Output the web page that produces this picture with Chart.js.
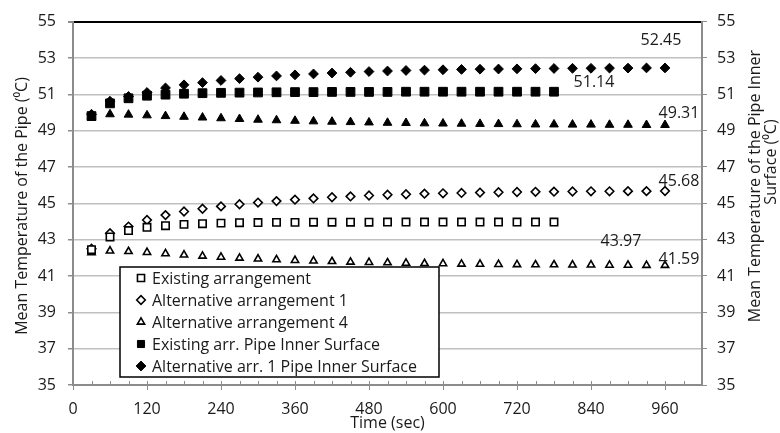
<!DOCTYPE html>
<html>
<head>
<meta charset="utf-8">
<script src="https://cdn.jsdelivr.net/npm/chart.js@4/dist/chart.umd.min.js"></script>
<style>
  html, body { margin: 0; padding: 0; background: #fff; }
  #wrap { width: 780px; height: 433px; }
</style>
</head>
<body>
<div id="wrap"><canvas id="chart" width="780" height="433"></canvas></div>
<script>
// time steps (sec)
const timeAll = [30, 60, 90, 120, 150, 180, 210, 240, 270, 300, 330, 360, 390, 420, 450, 480,
  510, 540, 570, 600, 630, 660, 690, 720, 750, 780, 810, 840, 870, 900, 930, 960];
const timeExisting = timeAll.slice(0, 26);

// mean pipe temperature
const existingArr = [42.45, 43.15, 43.5, 43.68, 43.77, 43.84, 43.88, 43.91, 43.93, 43.94, 43.95, 43.95, 43.96,
  43.96, 43.96, 43.96, 43.97, 43.97, 43.97, 43.97, 43.97, 43.97, 43.97, 43.97, 43.97, 43.97];
const altArr1 = [42.5, 43.35, 43.72, 44.08, 44.35, 44.55, 44.7, 44.83, 44.95, 45.04, 45.12, 45.2, 45.27, 45.33,
  45.38, 45.43, 45.47, 45.5, 45.53, 45.55, 45.57, 45.59, 45.61, 45.62, 45.63, 45.64, 45.65, 45.66, 45.66,
  45.67, 45.67, 45.68];
const altArr4 = [42.28, 42.38, 42.35, 42.3, 42.23, 42.16, 42.1, 42.04, 41.99, 41.94, 41.9, 41.86, 41.83, 41.8,
  41.77, 41.75, 41.73, 41.71, 41.69, 41.68, 41.66, 41.65, 41.64, 41.63, 41.62, 41.62, 41.61, 41.61, 41.6,
  41.6, 41.59, 41.59];

// mean pipe inner surface temperature
const existingInner = [49.8, 50.5, 50.78, 50.92, 50.98, 51.03, 51.06, 51.08, 51.09, 51.1, 51.11, 51.12, 51.12,
  51.13, 51.13, 51.13, 51.13, 51.14, 51.14, 51.14, 51.14, 51.14, 51.14, 51.14, 51.14, 51.14];
const altInner1 = [49.9, 50.62, 50.88, 51.1, 51.35, 51.52, 51.64, 51.76, 51.86, 51.94, 52.01, 52.07, 52.12,
  52.17, 52.21, 52.25, 52.28, 52.31, 52.33, 52.35, 52.37, 52.38, 52.39, 52.4, 52.41, 52.42, 52.43, 52.43,
  52.44, 52.44, 52.45, 52.45];
const altInner4 = [49.72, 49.9, 49.88, 49.84, 49.8, 49.76, 49.72, 49.68, 49.64, 49.6, 49.57, 49.54, 49.51,
  49.49, 49.47, 49.45, 49.43, 49.42, 49.4, 49.39, 49.38, 49.37, 49.36, 49.35, 49.34, 49.34, 49.33, 49.33,
  49.32, 49.32, 49.31, 49.31];

const seriesNames = ['Existing arrangement', 'Alternative arrangement 1', 'Alternative arrangement 4',
  'Existing arr. Pipe Inner Surface', 'Alternative arr. 1 Pipe Inner Surface', 'Alternative arr. 4 Pipe Inner Surface'];

const xTicks = { min: 0, max: 1020, major: 120, minor: 30 };
const yTicks = { min: 35, max: 55, step: 2 };

const FONT = '"Open Sans", "Noto Sans", sans-serif';
const FSIZE = 16;
const TXT = '#1a1a1a';
const AXIS = '#8c8c8c';
const GRID = '#c0c0c0';

const pts = (xs, ys) => xs.map((t, i) => ({ x: t, y: ys[i] }));

function openSet(label, xs, ys, style, r) {
  return { label, data: pts(xs, ys), pointStyle: style, pointRadius: r, pointHoverRadius: r,
    backgroundColor: '#fff', borderColor: '#000', pointBorderWidth: 1.6, showLine: false };
}
function filledSet(label, xs, ys, style, r) {
  return { label, data: pts(xs, ys), pointStyle: style, pointRadius: r, pointHoverRadius: r,
    backgroundColor: '#000', borderColor: '#000', pointBorderWidth: 1, showLine: false };
}

const datasets = [
  openSet(seriesNames[0], timeExisting, existingArr, 'rect', 5.2),
  openSet(seriesNames[1], timeAll, altArr1, 'rectRot', 4.3),
  openSet(seriesNames[2], timeAll, altArr4, 'triangle', 4.2),
  filledSet(seriesNames[3], timeExisting, existingInner, 'rect', 6.2),
  filledSet(seriesNames[4], timeAll, altInner1, 'rectRot', 4.9),
  filledSet(seriesNames[5], timeAll, altInner4, 'triangle', 5)
];

// end-of-series value labels: dataset index, offset from the last point
const endLabels = [
  { ds: 4, dx: -4, dy: -27 },
  { ds: 3, dx: 40, dy: -9 },
  { ds: 5, dx: 14, dy: -12 },
  { ds: 1, dx: 14, dy: -10 },
  { ds: 0, dx: 67, dy: 19 },
  { ds: 2, dx: 14, dy: -6 }
];

const decor = {
  id: 'decor',
  afterDraw(chart) {
    const { ctx, chartArea: a, scales } = chart;
    const x = scales.x;
    ctx.save();

    // x axis tick marks
    ctx.strokeStyle = AXIS;
    ctx.lineWidth = 1;
    for (let t = xTicks.min; t <= xTicks.max; t += xTicks.minor) {
      const px = Math.round(x.getPixelForValue(t)) + 0.5;
      const isMajor = t % xTicks.major === 0;
      ctx.beginPath();
      ctx.moveTo(px, a.bottom - 4);
      ctx.lineTo(px, isMajor ? a.bottom + 5 : a.bottom);
      ctx.stroke();
    }

    // value labels
    ctx.fillStyle = TXT;
    ctx.font = FSIZE + 'px ' + FONT;
    ctx.textAlign = 'center';
    ctx.textBaseline = 'middle';
    endLabels.forEach(l => {
      const meta = chart.getDatasetMeta(l.ds);
      const p = meta.data[meta.data.length - 1];
      const d = chart.data.datasets[l.ds].data;
      ctx.fillText(d[d.length - 1].y.toFixed(2), p.x + l.dx, p.y + l.dy);
    });

    // axis titles
    ctx.save();
    ctx.translate(22, 206);
    ctx.rotate(-Math.PI / 2);
    ctx.fillText('Mean Temperature of the Pipe (\u2070C)', 0, 0);
    ctx.restore();
    ctx.save();
    ctx.translate(755, 186);
    ctx.rotate(-Math.PI / 2);
    ctx.fillText('Mean Temperature of the Pipe Inner', 0, 0);
    ctx.restore();
    ctx.save();
    ctx.translate(771, 162);
    ctx.rotate(-Math.PI / 2);
    ctx.fillText('Surface (\u2070C)', 0, 0);
    ctx.restore();
    ctx.fillText('Time (sec)', (a.left + a.right) / 2, 423);

    // legend box (first five series only)
    const lx = 120, ly = 267, lw = 319, lh = 110;
    ctx.fillStyle = '#fff';
    ctx.fillRect(lx, ly, lw, lh);
    ctx.strokeStyle = '#000';
    ctx.lineWidth = 1.5;
    ctx.strokeRect(lx, ly, lw, lh);
    ctx.textAlign = 'left';
    for (let i = 0; i < 5; i++) {
      const ds = chart.data.datasets[i];
      const cy = ly + 11 + i * 22;
      ctx.fillStyle = ds.backgroundColor;
      ctx.strokeStyle = ds.borderColor;
      ctx.lineWidth = ds.pointBorderWidth;
      Chart.helpers.drawPoint(ctx, { pointStyle: ds.pointStyle, radius: Math.min(ds.pointRadius, 5), rotation: 0, borderWidth: ds.pointBorderWidth }, 141, cy);
      ctx.fillStyle = TXT;
      ctx.fillText(ds.label, 152, cy + 1);
    }
    ctx.restore();
  }
};

new Chart(document.getElementById('chart'), {
  type: 'scatter',
  data: { datasets },
  plugins: [decor],
  options: {
    responsive: false,
    animation: false,
    layout: { padding: { top: 15, right: 0, left: 0, bottom: 0 } },
    plugins: { legend: { display: false }, tooltip: { enabled: false } },
    scales: {
      x: {
        type: 'linear',
        min: xTicks.min, max: xTicks.max,
        afterFit: s => { s.height = 48; },
        border: { color: AXIS, width: 2 },
        grid: { drawOnChartArea: false, drawTicks: false },
        ticks: { stepSize: xTicks.major, includeBounds: false, padding: 15, color: TXT, font: { family: FONT, size: FSIZE } }
      },
      y: {
        position: 'left',
        min: yTicks.min, max: yTicks.max,
        afterFit: s => { s.width = 73; },
        border: { color: AXIS, width: 2 },
        grid: {
          color: c => (c.tick && c.tick.value === yTicks.max ? '#000' : GRID),
          lineWidth: c => (c.tick && c.tick.value === yTicks.max ? 2 : 1.5),
          tickColor: AXIS, tickLength: 5
        },
        ticks: { stepSize: yTicks.step, padding: 12, color: TXT, font: { family: FONT, size: FSIZE } }
      },
      y2: {
        position: 'right',
        min: yTicks.min, max: yTicks.max,
        afterFit: s => { s.width = 78; },
        border: { color: AXIS, width: 2 },
        grid: { drawOnChartArea: false, tickColor: AXIS, tickLength: 5 },
        ticks: { stepSize: yTicks.step, padding: 10, color: TXT, font: { family: FONT, size: FSIZE } }
      }
    }
  }
});
</script>
</body>
</html>
